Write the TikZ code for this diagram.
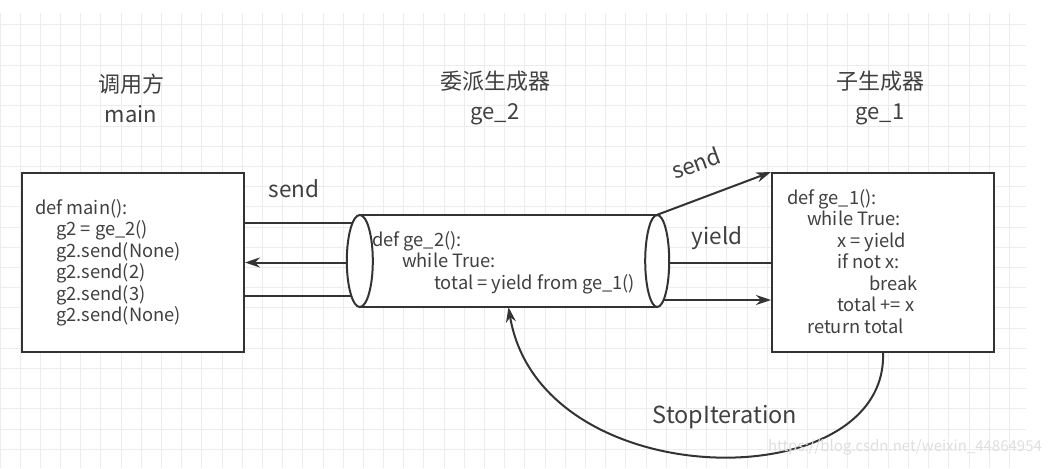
\documentclass[tikz,border=0pt]{standalone}
\usepackage{fontspec}
\setmainfont{Noto Sans CJK SC}
\usepackage{xcolor}
\usepackage{tikz}
\usetikzlibrary{arrows.meta}
\definecolor{inkgray}{RGB}{51,51,51}
\definecolor{textgray}{RGB}{64,64,64}
\definecolor{gridgray}{RGB}{236,236,236}
\definecolor{markgray}{RGB}{222,222,222}

\begin{document}
\begin{tikzpicture}[
    x=1pt, y=-1pt,
    box/.style={draw=inkgray, line width=2pt, fill=white, minimum width=222pt, minimum height=179pt, inner sep=0pt},
    code/.style={text=textgray, font=\fontsize{18.3}{21.5}\selectfont, align=left, inner sep=0pt, anchor=north west},
    heading/.style={text=textgray, font=\fontsize{22}{30}\selectfont, align=center},
    tag/.style={text=textgray, font=\fontsize{22.5}{26}\selectfont},
    wmark/.style={text=markgray, font=\fontsize{15}{18}\selectfont},
    gridline/.style={gridgray, line width=1pt},
    line/.style={inkgray, line width=2pt},
    conn/.style={line, -{Stealth[length=15pt,width=10pt]}}
]
\useasboundingbox (0,0) rectangle (1048,468);

% background grid
\foreach \gx in {0,...,50} \draw[gridline] (\gx*20.19,13) -- (\gx*20.19,468);
\foreach \gy in {0,...,21} \draw[gridline] (0,25+\gy*20.2) -- (1026,25+\gy*20.2);

\node[box] (main) at (133,262.5) {};
\node[box] (ge1) at (883,262.5) {};
\node[inner sep=0pt, minimum width=297pt, minimum height=92pt] (ge2) at (508.5,261) {};

% main <-> ge_2
\draw[line] ([yshift=39.5pt]main.east) -- ([yshift=39.5pt]main.east -| ge2.west);
\draw[conn] (main.east -| ge2.west) -- (main.east);
\draw[line] ([yshift=-33.5pt]main.east) -- ([yshift=-33.5pt]main.east -| ge2.west);

% ge_2 <-> ge_1
\draw[conn] (ge2.north east) -- (ge1.north west);
\draw[line] (ge1.west) -- (ge1.west -| ge2.east);
\draw[conn] ([yshift=-37.5pt]ge1.west -| ge2.east) -- ([yshift=-37.5pt]ge1.west);
\draw[conn] (ge1.south) .. controls +(5,146) and +(31.5,190) .. (ge2.south);

% cylinder
\draw[line, fill=white] (ge2.north west) rectangle (ge2.south east);
\draw[line, fill=white] (ge2.west) ellipse [x radius=13, y radius=46];
\draw[line, fill=white] (ge2.east) ellipse [x radius=12, y radius=46];

\node[box] at (main) {};
\node[box] at (ge1) {};

\node[code] (mainsrc) at (35,199) {def main():\\\hspace*{21pt}g2 = ge\_2()\\\hspace*{21pt}g2.send(None)\\\hspace*{21pt}g2.send(2)\\\hspace*{21pt}g2.send(3)\\\hspace*{21pt}g2.send(None)};
\node[code] (ge2src) at (372,231) {def ge\_2():\\\hspace*{30pt}while True:\\\hspace*{62pt}total = yield from ge\_1()};
\node[code] (ge1src) at (787,189) {def ge\_1():\\\hspace*{20pt}while True:\\\hspace*{50pt}x = yield\\\hspace*{50pt}if not x:\\\hspace*{82pt}break\\\hspace*{50pt}total += x\\\hspace*{20pt}return total};

\node[heading] (maint) at (131,98) {调用方\\main};
\node[heading] (ge2t) at (495,98) {委派生成器\\ge\_2};
\node[heading] (ge1t) at (880,98) {子生成器\\ge\_1};

\node[tag] (sendl) at (294,189) {send};
\node[tag, rotate=20] (sendr) at (696,163) {send};
\node[tag] (yieldl) at (717,238) {yield};
\node[tag, font=\fontsize{23.5}{26}\selectfont] (stopl) at (725,417) {StopIteration};
\node[wmark] (wm) at (905,447) {https://blog.csdn.net/weixin\_44864954};
\end{tikzpicture}
\end{document}
